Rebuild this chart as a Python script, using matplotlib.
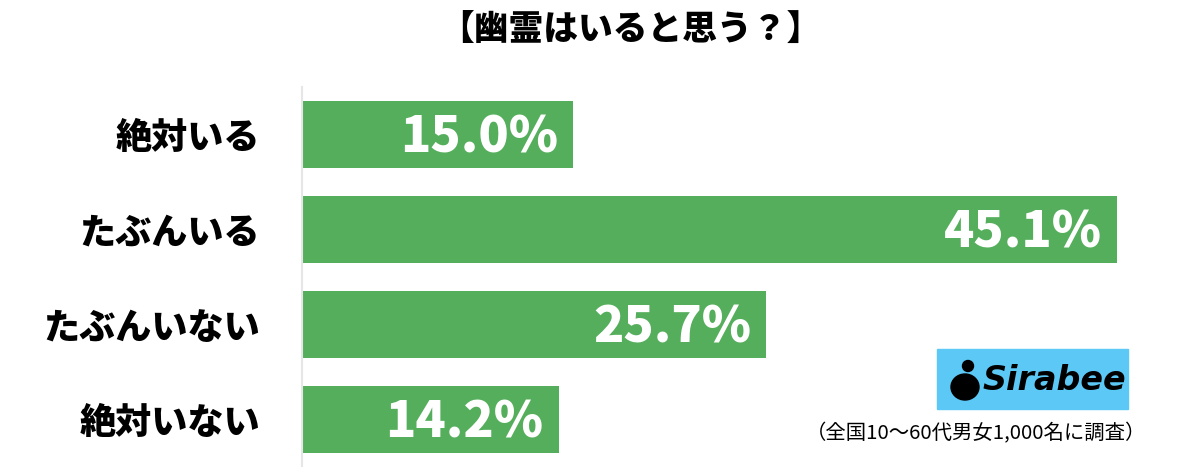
import matplotlib.pyplot as plt
from matplotlib.patches import Rectangle, Ellipse

plt.rcParams['font.family'] = ['Noto Sans CJK JP', 'DejaVu Sans']

# データ
labels = ['絶対いる', 'たぶんいる', 'たぶんいない', '絶対いない']
values = [15.0, 45.1, 25.7, 14.2]
title = '【幽霊はいると思う？】'
note = '（全国10〜60代男女1,000名に調査）'

green = '#55ae5c'

fig = plt.figure(figsize=(12, 4.67), dpi=100)
ax = fig.add_axes([302 / 1200, 0, 898 / 1200, 380 / 467])

ypos = range(len(values))
ax.barh(ypos, values, height=0.7, color=green)
ax.set_xlim(0, 898 / 18.07)
ax.set_ylim(3.5, -0.5)

for y, v in zip(ypos, values):
    ax.text(v - 0.85, y + 0.03, f'{v:.1f}%', ha='right', va='center',
            color='white', fontsize=36, fontweight='heavy')

ax.set_yticks(list(ypos))
ax.set_yticklabels(labels, fontsize=26, fontweight='heavy')
ax.tick_params(axis='y', length=0, pad=30)
ax.set_xticks([])
for s in ['top', 'right', 'bottom']:
    ax.spines[s].set_visible(False)
ax.spines['left'].set_color('#e6e6e6')
ax.spines['left'].set_linewidth(1.5)

fig.text(630 / 1200, 1 - 30 / 467, title, ha='center', va='center',
         fontsize=25, fontweight='heavy')
fig.text(1146 / 1200, 1 - 434 / 467, note, ha='right', va='center',
         fontsize=14.7)

# ロゴ
fig.patches.append(Rectangle((937 / 1200, 1 - 409 / 467), 191 / 1200, 60 / 467,
                             transform=fig.transFigure, color='#5bc8f5'))
fig.patches.append(Ellipse((965 / 1200, 1 - 387 / 467), 28 / 1200, 26 / 467,
                           transform=fig.transFigure, color='black'))
fig.patches.append(Ellipse((968 / 1200, 1 - 366 / 467), 11 / 1200, 11 / 467,
                           transform=fig.transFigure, color='black'))
fig.text(1054 / 1200, 1 - 381 / 467, 'Sirabee', ha='center', va='center',
         fontsize=24, fontweight='bold', style='italic', family='DejaVu Sans')

fig.savefig('out.png', dpi=100)
